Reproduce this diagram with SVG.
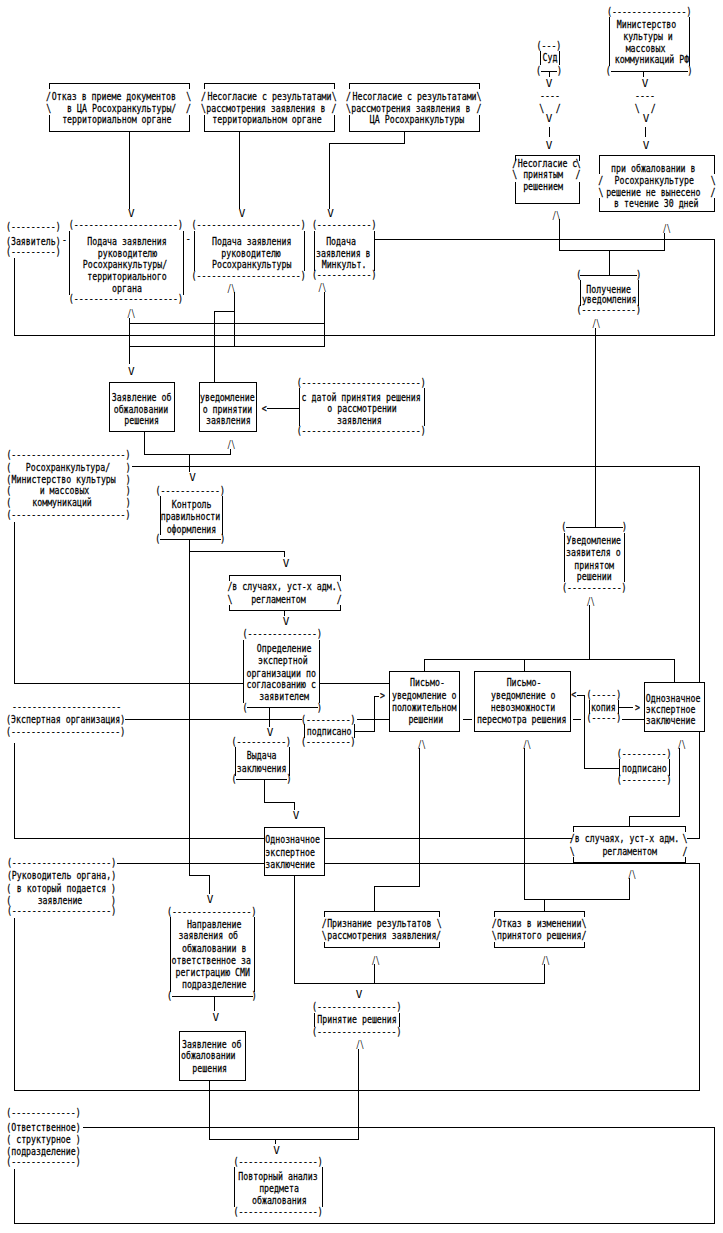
<svg xmlns="http://www.w3.org/2000/svg" width="723" height="1233" viewBox="0 0 723 1233">
<style>
.t{font-family:"DejaVu Sans Mono","Liberation Mono",monospace;font-size:11px;text-anchor:middle;fill:#000;stroke:#000;stroke-width:.25}
.l{text-anchor:start}
.a{font-family:"DejaVu Sans Mono","Liberation Mono",monospace;font-size:11px;text-anchor:middle;fill:#000}
.c,.b{fill:none;stroke:#000;stroke-width:1;shape-rendering:crispEdges}
.r{fill:#fff;stroke:#000;stroke-width:1;shape-rendering:crispEdges}
</style>
<rect width="723" height="1233" fill="#fff"/>

<g id="connectors">
<g class="c">
<path d="M129.3 131.3V208.5"/>
<path d="M239.3 131.3V208.5"/>
<path d="M404.3 131.3V143.3H329.7V208.5"/>
<path d="M549 71V77M549 126.7V136.7"/>
<path d="M643 71V77M645.7 126.7V136.7"/>
<path d="M559.3 219V250.7H664.3V232.5M609.3 250.7V275"/>
<path d="M14.3 258V335H714.3V239.3H374.3"/>
<path d="M129.3 318V364M129.3 323.3H324M129.3 346.7H324M324 292V346.7M234.3 292V346.7M214.3 311.7H234.3M214.3 311.7V382.7"/>
<path d="M267 408.3H298.7"/>
<path d="M144.3 431.7V454.7H230V449M189.3 454.7V471.5"/>
<path d="M595 328V527.3"/>
<path d="M131.7 466.7H699.3V682.7M699.3 731V838.3H686.7"/>
<path d="M14.3 521.7V683.3H243.3M319.3 683.3H389.3"/>
<path d="M189.3 539.3V875H209.3V893.5"/>
<path d="M189.3 551.7H284.3V557M284.3 610.7V615.5M269.3 707.5V726.5"/>
<path d="M354 731H374V696H379"/>
<path d="M125 719.3H302M356.7 719.3H389.3M462.5 719.3H471.5M573.3 719.3H580.5M621.7 719.3H644.3"/>
<path d="M14.3 743V838.3H264.3M324.3 838.3H572"/>
<path d="M576.5 695H584.3V768H619.3M618.3 707.7H633"/>
<path d="M589.3 605V659.3M424.3 659.3H674.3M424.3 659.3V671.7M524.3 659.3V671.7M674.3 659.3V682.7"/>
<path d="M264.3 779V802.7H294.3V809.5"/>
<path d="M679.3 748V816H629.3V826.7"/>
<path d="M116.7 863.3H264.3M324.3 863.3H699.3V1090H14.3V918"/>
<path d="M419.3 748V886.7H374.3V911.7M524.3 748V899H629.3V878M544.3 899V911.7"/>
<path d="M294.3 875V983.3H544.3V964M374.3 983.3V964"/>
<path d="M214.3 996V1011M209.3 1080V1139.3H358.5V1049M275.8 1139.3V1144"/>
<path d="M83.4 1127.3H714.3V1223.3H14.8V1169.3"/>
</g>
<g class="a">
<text x="131.3" y="217.3">V</text>
<text x="242" y="217.3">V</text>
<text x="330.5" y="217.3">V</text>
<text x="549" y="86.5">V</text>
<text x="549" y="122.3">V</text>
<text x="549" y="149">V</text>
<text x="645" y="86.5">V</text>
<text x="646" y="122.3">V</text>
<text x="646" y="149">V</text>
<text x="131.3" y="375">V</text>
<text x="192.5" y="481">V</text>
<text x="286" y="567.3">V</text>
<text x="286" y="624.8">V</text>
<text x="270" y="735.5">V</text>
<text x="296" y="819">V</text>
<text x="210" y="903.3">V</text>
<text x="359" y="998">V</text>
<text x="215.8" y="1021">V</text>
<text x="276.5" y="1153.5">V</text>
<text x="131.3" y="317" textLength="8" lengthAdjust="spacingAndGlyphs">/\</text>
<text x="231.3" y="292" textLength="8" lengthAdjust="spacingAndGlyphs">/\</text>
<text x="322.2" y="291" textLength="8" lengthAdjust="spacingAndGlyphs">/\</text>
<text x="556.3" y="219" textLength="8" lengthAdjust="spacingAndGlyphs">/\</text>
<text x="666.7" y="232" textLength="8" lengthAdjust="spacingAndGlyphs">/\</text>
<text x="596.2" y="327.3" textLength="8" lengthAdjust="spacingAndGlyphs">/\</text>
<text x="231.3" y="448" textLength="8" lengthAdjust="spacingAndGlyphs">/\</text>
<text x="590.8" y="605" textLength="8" lengthAdjust="spacingAndGlyphs">/\</text>
<text x="421.7" y="748" textLength="8" lengthAdjust="spacingAndGlyphs">/\</text>
<text x="527" y="748" textLength="8" lengthAdjust="spacingAndGlyphs">/\</text>
<text x="681.7" y="748" textLength="8" lengthAdjust="spacingAndGlyphs">/\</text>
<text x="632" y="878" textLength="8" lengthAdjust="spacingAndGlyphs">/\</text>
<text x="375.8" y="964" textLength="8" lengthAdjust="spacingAndGlyphs">/\</text>
<text x="545.8" y="964" textLength="8" lengthAdjust="spacingAndGlyphs">/\</text>
<text x="360" y="1048" textLength="8" lengthAdjust="spacingAndGlyphs">/\</text>
</g>
<g transform="scale(.75 1)" class="t">
<text x="733.3" y="99.2">----</text>
<text x="722.3" y="111.8">\</text>
<text x="744.4" y="111.8">/</text>
<text x="860" y="99.2">----</text>
<text x="849.7" y="111.8">\</text>
<text x="871.1" y="111.8">/</text>
<text x="352.3" y="411.8">&lt;</text>
<text x="765.1" y="698.5">&lt;</text>
<text x="510" y="699.5">&gt;</text>
<text x="850" y="711.2">&gt;</text>
<text x="86" y="243.2">-</text>
<text x="251.1" y="242.5">-</text>
</g>
</g>

<g id="otkaz-ca">
<path class="b" d="M49.3 89.3V83.3H189.7V89.3M49.3 115V131.3H189.7V115"/>
<g transform="scale(.75 1)" class="t">
<text x="64.7" y="100.2">/</text><text x="151.9" y="100.2">Отказ в приеме документов</text><text x="251.6" y="100.2">\</text>
<text x="65.1" y="111.8">\</text><text x="162.3" y="111.8">в ЦА Росохранкультуры/</text><text x="251.3" y="111.8">/</text>
<text x="155.7" y="123.5">территориальном органе</text>
</g>
</g>

<g id="nesoglasie-terr">
<path class="b" d="M204.3 89.3V83.3H334.3V89.3M204.3 115V131.3H334.3V115"/>
<g transform="scale(.75 1)" class="t">
<text x="271.3" y="100.2">/</text><text x="359.3" y="100.2">Несогласие с результатами</text><text x="445.7" y="100.2">\</text>
<text x="271.3" y="111.8">\</text><text x="354.4" y="111.8">рассмотрения заявления в</text><text x="445.3" y="111.8">/</text>
<text x="356" y="123.5">территориальном органе</text>
</g>
</g>

<g id="nesoglasie-ca">
<path class="b" d="M349.3 89.3V83.3H479V89.3M349.3 115V131.3H479V115"/>
<g transform="scale(.75 1)" class="t">
<text x="464.7" y="100.2">/</text><text x="552.7" y="100.2">Несогласие с результатами</text><text x="638.7" y="100.2">\</text>
<text x="464.7" y="111.8">\</text><text x="547.7" y="111.8">рассмотрения заявления в</text><text x="638.7" y="111.8">/</text>
<text x="556" y="123.5">ЦА Росохранкультуры</text>
</g>
</g>

<g id="sud">
<path class="b" d="M540 51V65M559.3 51V65M541 71H557"/>
<g transform="scale(.75 1)" class="t">
<text x="731.9" y="48.7">(---)</text>
<text x="733.3" y="61.5">Суд</text>
<text x="718" y="74.2">(</text><text x="746" y="74.2">)</text>
</g>
</g>

<g id="ministerstvo">
<path class="b" d="M609.7 17V66M689.3 17V66M611 71H688"/>
<g transform="scale(.75 1)" class="t">
<text x="865.6" y="15.2">(---------------)</text>
<text x="862" y="28.5">Министерство</text>
<text x="864" y="40.2">культуры и</text>
<text x="860.7" y="51.8">массовых</text>
<text x="869.3" y="63.5">коммуникаций РФ</text>
<text x="811.1" y="74.2">(</text><text x="920" y="74.2">)</text>
</g>
</g>

<g id="nesoglasie-reshenie">
<path class="b" d="M515 160.5V155H579V160.5M515 181.7V203.3H579V181.7"/>
<g transform="scale(.75 1)" class="t">
<text x="686.3" y="166.8">/</text><text x="730" y="166.8">Несогласие с</text><text x="771.1" y="166.8">\</text>
<text x="686.3" y="178.5">\</text><text x="724" y="178.5">принятым</text><text x="770.7" y="178.5">/</text>
<text x="724" y="190.2">решением</text>
</g>
</g>

<g id="ne-vyneseno">
<path class="b" d="M599.3 174V155H714V174M599.3 198V211H714V198"/>
<g transform="scale(.75 1)" class="t">
<text x="871.1" y="171.8">при обжаловании в</text>
<text x="800.9" y="184.2">/</text><text x="872.3" y="184.2">Росохранкультуре</text><text x="951.1" y="184.2">\</text>
<text x="801.3" y="196.2">\</text><text x="871.1" y="196.2">решение не вынесено</text><text x="950.7" y="196.2">/</text>
<text x="875.1" y="207.5">в течение 30 дней</text>
</g>
</g>

<g id="zayavitel">
<g transform="scale(.75 1)" class="t">
<text x="44.4" y="230.2">(---------)</text>
<text x="44.4" y="245.2">(Заявитель)</text>
<text x="44.4" y="255.5">(---------)</text>
</g>
</g>

<g id="podacha-1">
<path class="b" d="M69.7 231V295M183.7 231V295"/>
<g transform="scale(.75 1)" class="t">
<text x="167.9" y="228.2">(---------------------)</text>
<text x="169.3" y="245.2">Подача заявления</text>
<text x="170" y="256.8">руководителю</text>
<text x="166.7" y="268.5">Росохранкультуры/</text>
<text x="169.3" y="280.2">территориального</text>
<text x="169.3" y="292">органа</text>
<text x="167.9" y="302.5">(---------------------)</text>
</g>
</g>

<g id="podacha-2">
<path class="b" d="M194.3 231V271M304 231V271"/>
<g transform="scale(.75 1)" class="t">
<text x="331.6" y="228.2">(---------------------)</text>
<text x="335.6" y="245.2">Подача заявления</text>
<text x="334.7" y="256.8">руководителю</text>
<text x="335.6" y="268.5">Росохранкультуры</text>
<text x="331.6" y="279.2">(---------------------)</text>
</g>
</g>

<g id="podacha-3">
<path class="b" d="M314.3 231V271M374.3 231V271"/>
<g transform="scale(.75 1)" class="t">
<text x="458.9" y="228.2">(-----------)</text>
<text x="454.7" y="245.2">Подача</text>
<text x="457.7" y="256.8">заявления в</text>
<text x="458.7" y="268.5">Минкульт.</text>
<text x="458.9" y="278.5">(-----------)</text>
</g>
</g>

<g id="poluchenie">
<path class="b" d="M580 280V306M638.3 280V306M580 275H637"/>
<g transform="scale(.75 1)" class="t">
<text x="771.7" y="278.2">(</text><text x="851.7" y="278.2">)</text>
<text x="811.6" y="292.8">Получение</text>
<text x="812.3" y="303.5">уведомления</text>
<text x="811.7" y="313.2">(-----------)</text>
</g>
</g>

<g id="zayavlenie-1">
<rect class="r" x="109.3" y="382.7" width="65" height="49"/>
<g transform="scale(.75 1)" class="t">
<text x="188.9" y="400.8">Заявление об</text>
<text x="188" y="412.8">обжаловании</text>
<text x="188.9" y="424.5">решения</text>
</g>
</g>

<g id="uvedomlenie-prinyatie">
<rect class="r" x="199.3" y="382.7" width="56.7" height="49"/>
<g transform="scale(.75 1)" class="t">
<text x="303.1" y="400.8">уведомление</text>
<text x="303.3" y="412.8">о принятии</text>
<text x="304.4" y="424.5">заявления</text>
</g>
</g>

<g id="s-datoy">
<path class="b" d="M299.3 388V426M424.3 388V426"/>
<g transform="scale(.75 1)" class="t">
<text x="481.6" y="385.7">(------------------------)</text>
<text x="481.6" y="400.8">с датой принятия решения</text>
<text x="482.7" y="412.5">о рассмотрении</text>
<text x="479.3" y="423.8">заявления</text>
<text x="481.6" y="434.2">(------------------------)</text>
</g>
</g>

<g id="rosokhran">
<g transform="scale(.75 1)" class="t">
<text x="91.3" y="458.2">(-----------------------)</text>
<text x="11.6" y="471.2">(</text><text x="90.7" y="471.2">Росохранкультура/</text><text x="171.1" y="471.2">)</text>
<text x="11.6" y="482.8">(</text><text x="84.9" y="482.8">Министерство культуры</text><text x="171.1" y="482.8">)</text>
<text x="11.6" y="494.5">(</text><text x="86" y="494.5">и массовых</text><text x="171.1" y="494.5">)</text>
<text x="11.6" y="506.2">(</text><text x="82.7" y="506.2">коммуникаций</text><text x="171.1" y="506.2">)</text>
<text x="91.3" y="518.2">(-----------------------)</text>
</g>
</g>

<g id="kontrol">
<path class="b" d="M160 496V535M222.7 496V535M160 539.3H221"/>
<g transform="scale(.75 1)" class="t">
<text x="253.7" y="493.9">(------------)</text>
<text x="255.6" y="507.8">Контроль</text>
<text x="254" y="520.2">правильности</text>
<text x="255.3" y="532.8">оформления</text>
<text x="210.3" y="542.5">(</text><text x="297.1" y="542.5">)</text>
</g>
</g>

<g id="sluchai-1">
<path class="b" d="M229.3 580.5V575H340V580.5M229.3 605V610.7H340V605"/>
<g transform="scale(.75 1)" class="t">
<text x="306.7" y="590.2">/</text><text x="379.3" y="590.2">в случаях, уст-х адм.</text><text x="452.4" y="590.2">\</text>
<text x="306.7" y="602.8">\</text><text x="371.3" y="602.8">регламентом</text><text x="452.4" y="602.8">/</text>
</g>
</g>

<g id="opredelenie">
<path class="b" d="M243.3 640V703M319.3 640V703M247 707.5H318"/>
<g transform="scale(.75 1)" class="t">
<text x="376.4" y="637.2">(--------------)</text>
<text x="378.9" y="651.8">Определение</text>
<text x="377.1" y="664.5">экспертной</text>
<text x="374.9" y="676.8">организации по</text>
<text x="374.9" y="688.5">согласованию с</text>
<text x="378.9" y="700.2">заявителем</text>
<text x="326.7" y="710.7">(</text><text x="426" y="710.7">)</text>
</g>
</g>

<g id="podpisano-1">
<path class="b" d="M304 724V738M354 724V738"/>
<g transform="scale(.75 1)" class="t">
<text x="437.7" y="722.7">(---------)</text>
<text x="438.9" y="735">подписано</text>
<text x="437.7" y="745.2">(---------)</text>
</g>
</g>

<g id="ekspertnaya">
<g transform="scale(.75 1)" class="t">
<text x="88.9" y="709.9">----------------------</text>
<text x="87.6" y="722.8">(Экспертная организация)</text>
<text x="87.6" y="734.9">(----------------------)</text>
</g>
</g>

<g id="vydacha">
<path class="b" d="M235 747V776M289.3 747V776M236 779H287"/>
<g transform="scale(.75 1)" class="t">
<text x="348.4" y="745.5">(----------)</text>
<text x="348.9" y="759.5">Выдача</text>
<text x="348.9" y="771.8">заключения</text>
<text x="312" y="782.2">(</text><text x="385.3" y="782.2">)</text>
</g>
</g>

<g id="pismo-polozh">
<rect class="r" x="389.3" y="671.7" width="70" height="59.3"/>
<g transform="scale(.75 1)" class="t">
<text x="570" y="686.2">Письмо-</text>
<text x="565.6" y="699.5">уведомление о</text>
<text x="565.6" y="711.2">положительном</text>
<text x="567.7" y="723.5">решении</text>
</g>
</g>

<g id="pismo-nevozm">
<rect class="r" x="474.3" y="671.7" width="95.7" height="59.3"/>
<g transform="scale(.75 1)" class="t">
<text x="698.7" y="686.2">Письмо-</text>
<text x="697.7" y="699.5">уведомление о</text>
<text x="697.3" y="711.2">невозможности</text>
<text x="695.6" y="723.5">пересмотра решения</text>
</g>
</g>

<g id="uvedomlenie-zayavitelya">
<path class="b" d="M564 533V582M624 533V582M566 527.3H623"/>
<g transform="scale(.75 1)" class="t">
<text x="751.6" y="530.5">(</text><text x="832.7" y="530.5">)</text>
<text x="791.7" y="543.5">Уведомление</text>
<text x="791.1" y="556.3">заявителя о</text>
<text x="792.3" y="568.8">принятом</text>
<text x="792.3" y="580">решении</text>
<text x="792.4" y="590.8">(-----------)</text>
</g>
</g>

<g id="odnoznachnoe-1">
<rect class="r" x="644.3" y="682.7" width="59.7" height="48.3"/>
<g transform="scale(.75 1)" class="t l">
<text x="861" y="701.8">Однозначное</text>
<text x="861" y="712.8">экспертное</text>
<text x="861" y="724.5">заключение</text>
</g>
</g>

<g id="kopiya">
<path class="b" d="M589.3 700V714M618.3 700V714"/>
<g transform="scale(.75 1)" class="t">
<text x="805.1" y="698.2">(-----)</text>
<text x="804.4" y="711.2">копия</text>
<text x="805.1" y="721.5">(-----)</text>
</g>
</g>

<g id="podpisano-2">
<path class="b" d="M619.3 759V776M669 759V776"/>
<g transform="scale(.75 1)" class="t">
<text x="858.9" y="757.5">(---------)</text>
<text x="859.3" y="772.5">подписано</text>
<text x="858.9" y="783.2">(---------)</text>
</g>
</g>

<g id="sluchai-2">
<path class="b" d="M573.3 832V826.7H685V832M573.3 857V862.7H685V857"/>
<g transform="scale(.75 1)" class="t">
<text x="763.1" y="842.5">/</text><text x="836" y="842.5">в случаях, уст-х адм.</text><text x="913.3" y="842.5">\</text>
<text x="763.1" y="855.2">\</text><text x="839.6" y="855.2">регламентом</text><text x="913.3" y="855.2">/</text>
</g>
</g>

<g id="odnoznachnoe-2">
<rect class="r" x="264.3" y="827.3" width="60" height="47.7"/>
<g transform="scale(.75 1)" class="t l">
<text x="353.7" y="842.8">Однозначное</text>
<text x="353.7" y="855.8">экспертное</text>
<text x="353.7" y="868.5">заключение</text>
</g>
</g>

<g id="rukovoditel">
<g transform="scale(.75 1)" class="t">
<text x="82" y="866.5">(--------------------)</text>
<text x="82" y="879.2">(Руководитель органа,)</text>
<text x="11.6" y="891.8">(</text><text x="82" y="891.8">в который подается</text><text x="151.3" y="891.8">)</text>
<text x="11.6" y="904.5">(</text><text x="80" y="904.5">заявление</text><text x="151.3" y="904.5">)</text>
<text x="82" y="914.2">(--------------------)</text>
</g>
</g>

<g id="napravlenie">
<path class="b" d="M170 917V992M254 917V992M171.5 996H252.5"/>
<g transform="scale(.75 1)" class="t">
<text x="282.3" y="914.9">(----------------)</text>
<text x="285.6" y="927.8">Направление</text>
<text x="277.7" y="939.5">заявления об</text>
<text x="285.6" y="951.8">обжаловании в</text>
<text x="281.6" y="964.2">ответственное за</text>
<text x="283.7" y="975.8">регистрацию СМИ</text>
<text x="285.6" y="987.8">подразделение</text>
<text x="226" y="999.2">(</text><text x="339.1" y="999.2">)</text>
</g>
</g>

<g id="priznanie">
<path class="b" d="M324.3 917V911.7H439.3V917M324.3 942V947.3H439.3V942"/>
<g transform="scale(.75 1)" class="t">
<text x="432.4" y="927.5">/</text><text x="505.7" y="927.5">Признание результатов</text><text x="585.7" y="927.5">\</text>
<text x="432.4" y="939">\</text><text x="509.1" y="939">рассмотрения заявления</text><text x="584.7" y="939">/</text>
</g>
</g>

<g id="otkaz-izmenenie">
<path class="b" d="M494.3 917V911.7H584V917M494.3 942V947.3H584V942"/>
<g transform="scale(.75 1)" class="t">
<text x="659.1" y="927.5">/</text><text x="718.9" y="927.5">Отказ в изменении</text><text x="778.7" y="927.5">\</text>
<text x="659.1" y="939">\</text><text x="718.9" y="939">принятого решения</text><text x="778.7" y="939">/</text>
</g>
</g>

<g id="prinyatie">
<path class="b" d="M314.3 1013V1027M399.3 1013V1027"/>
<g transform="scale(.75 1)" class="t">
<text x="475.6" y="1010.5">(----------------)</text>
<text x="476" y="1023.5">Принятие решения</text>
<text x="475.6" y="1034.9">(----------------)</text>
</g>
</g>

<g id="zayavlenie-2">
<rect class="r" x="179.3" y="1031" width="65.7" height="49"/>
<g transform="scale(.75 1)" class="t">
<text x="282.3" y="1047.8">Заявление об</text>
<text x="277.7" y="1059.2">обжаловании</text>
<text x="279.6" y="1071.8">решения</text>
</g>
</g>

<g id="otvetstvennoe">
<g transform="scale(.75 1)" class="t">
<text x="58" y="1116.5">(-------------)</text>
<text x="58" y="1130.8">(Ответственное)</text>
<text x="11.6" y="1143.5">(</text><text x="58" y="1143.5">структурное</text><text x="104.4" y="1143.5">)</text>
<text x="58" y="1155.2">(подразделение)</text>
<text x="58" y="1164.9">(-------------)</text>
</g>
</g>

<g id="povtorny">
<path class="b" d="M234 1167V1207M322 1167V1207"/>
<g transform="scale(.75 1)" class="t">
<text x="370.8" y="1164.8">(----------------)</text>
<text x="370.7" y="1180.2">Повторный анализ</text>
<text x="372" y="1192.5">предмета</text>
<text x="372.4" y="1204.2">обжалования</text>
<text x="370.8" y="1214.9">(----------------)</text>
</g>
</g>
</svg>
